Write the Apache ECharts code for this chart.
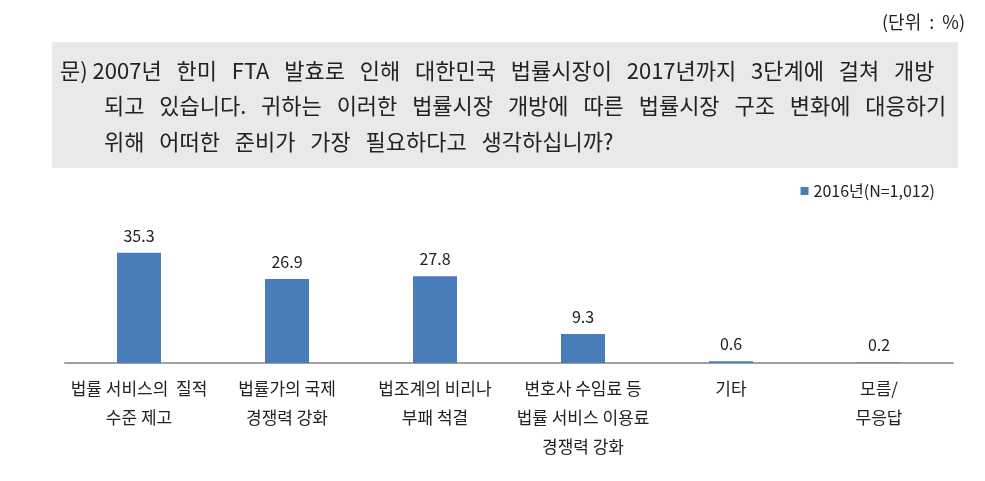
<!DOCTYPE html>
<html><head><meta charset="utf-8">
<script src="https://cdn.jsdelivr.net/npm/echarts@6/dist/echarts.min.js"></script>
<style>html,body{margin:0;padding:0;background:#fff}#c{width:985px;height:481px}</style>
</head><body><div id="c"></div>
<script>
const categories = ['법률 서비스의  질적\n수준 제고', '법률가의 국제\n경쟁력 강화', '법조계의 비리나\n부패 척결', '변호사 수임료 등\n법률 서비스 이용료\n경쟁력 강화', '기타', '모름/\n무응답'];
const values2016 = [35.3, 26.9, 27.8, 9.3, 0.6, 0.2];
const seriesName = '2016년(N=1,012)';
const unitText = '(단위  :  %)';
const questionLines = [
  '문) 2007년   한미   FTA   발효로   인해   대한민국   법률시장이   2017년까지   3단계에   걸쳐   개방',
  '되고   있습니다.   귀하는   이러한   법률시장   개방에   따른   법률시장   구조   변화에   대응하기',
  '위해   어떠한   준비가   가장   필요하다고   생각하십니까?'
];
const F = '"Noto Sans CJK KR", "Noto Sans", sans-serif';
const chart = echarts.init(document.getElementById('c'));
chart.setOption({
  animation: false,
  backgroundColor: '#fff',
  graphic: [
    { type: 'rect', shape: { x: 52, y: 42, width: 906, height: 126 }, style: { fill: '#e9e9e9' } },
    { type: 'text', right: 20, top: 13, style: { text: unitText, font: '18px ' + F, fill: '#222' } },
    { type: 'text', left: 60, top: 60, style: { text: questionLines[0], font: '22px ' + F, fill: '#222' } },
    { type: 'text', left: 104, top: 95, style: { text: questionLines[1], font: '22px ' + F, fill: '#222' } },
    { type: 'text', left: 104, top: 131, style: { text: questionLines[2], font: '22px ' + F, fill: '#222' } }
  ],
  legend: {
    right: 45, top: 178, itemWidth: 8, itemHeight: 8, icon: 'rect', itemGap: 4,
    textStyle: { fontFamily: F, fontSize: 16, color: '#222' },
    data: [seriesName]
  },
  grid: { left: 65, right: 32, top: 238, bottom: 118 },
  xAxis: {
    type: 'category', data: categories,
    axisLine: { lineStyle: { color: '#a0a0a0', width: 2 } },
    axisTick: { show: false },
    axisLabel: { fontFamily: F, fontSize: 17, color: '#222', lineHeight: 29, margin: 11, interval: 0 }
  },
  yAxis: { type: 'value', min: 0, max: 40, show: false, splitLine: { show: false } },
  series: [{
    name: seriesName, type: 'bar', data: values2016, barWidth: 44,
    itemStyle: { color: '#4a7ebb' },
    label: { show: true, position: 'top', distance: 9, fontFamily: F, fontSize: 16, color: '#222' }
  }]
});
</script></body></html>
